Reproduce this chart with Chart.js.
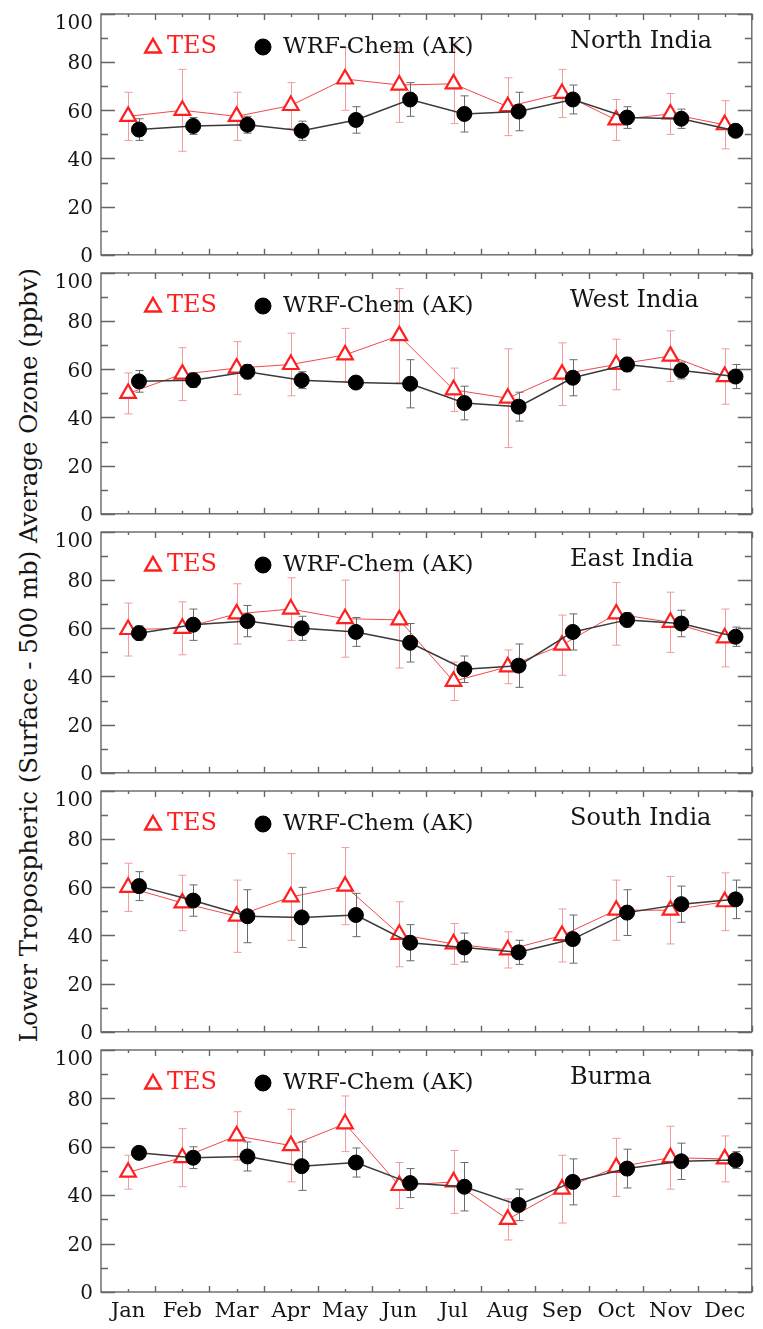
<!DOCTYPE html>
<html>
<head>
<meta charset="utf-8">
<title>Lower tropospheric ozone, TES vs WRF-Chem</title>
<script src="https://cdn.jsdelivr.net/npm/chart.js@4.4.1/dist/chart.umd.min.js"></script>
<style>
  html, body { margin: 0; padding: 0; background: #fff; }
  #page { position: relative; width: 763px; height: 1329px; overflow: hidden; }
  .panel { position: absolute; left: 0; }
  #ytitle {
    position: absolute; left: 28px; top: 655px;
    transform: translate(-50%, -50%) rotate(-90deg);
    white-space: nowrap; font: 24.5px "DejaVu Serif", serif; color: #151515;
  }
</style>
</head>
<body>
<div id="page">
  <div id="ytitle">Lower Tropospheric (Surface - 500 mb) Average Ozone (ppbv)</div>
</div>
<script>
const MONTHS = ["Jan", "Feb", "Mar", "Apr", "May", "Jun", "Jul", "Aug", "Sep", "Oct", "Nov", "Dec"];
const REGIONS = ["North India", "West India", "East India", "South India", "Burma"];
const Y_TICKS = [0, 20, 40, 60, 80, 100];

// monthly means and 1-sigma spread, ppbv
const NORTH_TES = [57.5, 60, 57.5, 62, 73, 70.5, 71, 61.5, 67, 56, 58.5, 54];
const NORTH_TES_ERR = [10, 17, 10, 9.5, 13, 15.5, 16.5, 12, 10, 8.5, 8.5, 10];
const NORTH_WRF = [52, 53.5, 54, 51.5, 56, 64.5, 58.5, 59.5, 64.5, 57, 56.5, 51.5];
const NORTH_WRF_ERR = [4.5, 3.5, 3.5, 4, 5.5, 7, 7.5, 8, 6, 4.5, 4, 2];

const WEST_TES = [50, 58, 60.5, 62, 66, 74, 51.5, 48, 58, 62, 65.5, 57];
const WEST_TES_ERR = [8.5, 11, 11, 13, 11, 19.5, 9, 20.5, 13, 10.5, 10.5, 11.5];
const WEST_WRF = [55, 55.5, 59, 55.5, 54.5, 54, 46, 44.5, 56.5, 62, 59.5, 57];
const WEST_WRF_ERR = [4.5, 3, 3, 3.5, 1.5, 10, 7, 6, 7.5, 3, 3.5, 5];

const EAST_TES = [59.5, 60, 66, 68, 64, 63.5, 38, 44, 53, 66, 62.5, 56];
const EAST_TES_ERR = [11, 11, 12.5, 13, 16, 20, 8, 7, 12.5, 13, 12.5, 12];
const EAST_WRF = [58, 61.5, 63, 60, 58.5, 54, 43, 44.5, 58.5, 63.5, 62, 56.5];
const EAST_WRF_ERR = [3, 6.5, 6.5, 5, 6, 8, 5.5, 9, 7.5, 3, 5.5, 4];

const SOUTH_TES = [60, 53.5, 48, 56, 60.5, 40.5, 36.5, 34, 40, 50.5, 50.5, 54];
const SOUTH_TES_ERR = [10, 11.5, 15, 18, 16, 13.5, 8.5, 7.5, 11, 12.5, 14, 12];
const SOUTH_WRF = [60.5, 54.5, 48, 47.5, 48.5, 37, 35, 33, 38.5, 49.5, 53, 55];
const SOUTH_WRF_ERR = [6, 6.5, 11, 12.5, 9, 7.5, 6, 5, 10, 9.5, 7.5, 8];

const BURMA_TES = [49.5, 55.5, 64.5, 60.5, 69.5, 44, 45.5, 30, 42.5, 51.5, 55.5, 55];
const BURMA_TES_ERR = [7, 12, 10, 15, 11.5, 9.5, 13, 8.5, 14, 12, 13, 9.5];
const BURMA_WRF = [57.5, 55.5, 56, 52, 53.5, 45, 43.5, 36, 45.5, 51, 54, 54.5];
const BURMA_WRF_ERR = [2.5, 4.5, 6, 10, 6, 6, 10, 6.5, 9.5, 8, 7.5, 3.5];

const PANELS = [
  { tes: NORTH_TES, tesErr: NORTH_TES_ERR, wrf: NORTH_WRF, wrfErr: NORTH_WRF_ERR },
  { tes: WEST_TES, tesErr: WEST_TES_ERR, wrf: WEST_WRF, wrfErr: WEST_WRF_ERR },
  { tes: EAST_TES, tesErr: EAST_TES_ERR, wrf: EAST_WRF, wrfErr: EAST_WRF_ERR },
  { tes: SOUTH_TES, tesErr: SOUTH_TES_ERR, wrf: SOUTH_WRF, wrfErr: SOUTH_WRF_ERR },
  { tes: BURMA_TES, tesErr: BURMA_TES_ERR, wrf: BURMA_WRF, wrfErr: BURMA_WRF_ERR },
];

const WRF_SHIFT = 0.2; // model points sit a little right of the month
const RED = "#ff1f1f";
const SERIF = '"DejaVu Serif", serif';

// box, inward ticks, tick labels, error bars and the in-panel legend
const framePlugin = {
  id: "frame",
  beforeDatasetsDraw(chart, args, opts) {
    const { ctx, chartArea: a } = chart;
    const x = chart.scales.x, y = chart.scales.y;
    ctx.save();
    ctx.strokeStyle = "#666";
    ctx.lineWidth = 1.4;
    ctx.strokeRect(a.left, a.top, a.right - a.left, a.bottom - a.top);
    ctx.beginPath();
    for (let v = 0; v <= 100; v += 10) {
      const py = Math.round(y.getPixelForValue(v)) + 0.5;
      const len = v % 20 === 0 ? 14 : 7;
      ctx.moveTo(a.left, py); ctx.lineTo(a.left + len, py);
      ctx.moveTo(a.right, py); ctx.lineTo(a.right - len, py);
    }
    for (let m = 0; m < 12; m += 0.5) {
      const px = Math.round(x.getPixelForValue(m)) + 0.5;
      const len = Number.isInteger(m) ? 3 : 6;
      ctx.moveTo(px, a.bottom); ctx.lineTo(px, a.bottom - len);
      ctx.moveTo(px, a.top); ctx.lineTo(px, a.top + len);
    }
    ctx.stroke();

    ctx.fillStyle = "#151515";
    ctx.font = "20px " + SERIF;
    ctx.textAlign = "right";
    ctx.textBaseline = "middle";
    Y_TICKS.forEach(v => {
      const py = Math.max(y.getPixelForValue(v) + 2, a.top + 10);
      ctx.fillText(String(v), a.left - 8, py);
    });
    if (opts.months) {
      ctx.font = "21px " + SERIF;
      ctx.textAlign = "center";
      MONTHS.forEach((m, i) => ctx.fillText(m, x.getPixelForValue(i), a.bottom + 20));
    }
    ctx.restore();
  },
  beforeDatasetDraw(chart, args) {
    const ds = chart.data.datasets[args.index];
    const y = chart.scales.y;
    const ctx = chart.ctx;
    ctx.save();
    ctx.strokeStyle = ds.errColor;
    ctx.lineWidth = 1;
    ctx.beginPath();
    args.meta.data.forEach((pt, i) => {
      const v = ds.data[i].y, e = ds.errors[i];
      const top = y.getPixelForValue(v + e), bot = y.getPixelForValue(v - e);
      const px = Math.round(pt.x) + 0.5;
      ctx.moveTo(px, top); ctx.lineTo(px, bot);
      ctx.moveTo(px - 4, top); ctx.lineTo(px + 4, top);
      ctx.moveTo(px - 4, bot); ctx.lineTo(px + 4, bot);
    });
    ctx.stroke();
    ctx.restore();
  },
  afterDraw(chart, args, opts) {
    const { ctx, chartArea: a } = chart;
    const ly = a.top + 33;
    ctx.save();
    ctx.fillStyle = "#fff";
    ctx.strokeStyle = RED;
    ctx.lineWidth = 2.4;
    Chart.helpers.drawPoint(ctx, { pointStyle: "triangle", radius: 9, borderWidth: 2.4 }, a.left + 52, ly + 1);
    ctx.fillStyle = "#000";
    ctx.strokeStyle = "#000";
    ctx.lineWidth = 1;
    Chart.helpers.drawPoint(ctx, { pointStyle: "circle", radius: 8, borderWidth: 1 }, a.left + 162, ly);

    ctx.font = "24px " + SERIF;
    ctx.textAlign = "left";
    ctx.textBaseline = "middle";
    ctx.fillStyle = RED;
    ctx.fillText("TES", a.left + 66, ly);
    ctx.fillStyle = "#151515";
    ctx.font = "23px " + SERIF;
    ctx.fillText("WRF-Chem (AK)", a.left + 182, ly);
    ctx.font = "24px " + SERIF;
    ctx.fillText(opts.name, a.left + 469, a.top + 28);
    ctx.restore();
  }
};

const page = document.getElementById("page");

PANELS.forEach((p, k) => {
  const last = k === PANELS.length - 1;
  const height = last ? 299 : 272;
  const canvas = document.createElement("canvas");
  canvas.className = "panel";
  canvas.width = 763;
  canvas.height = height;
  canvas.style.top = (259 * k - 6) + "px";
  page.appendChild(canvas);

  new Chart(canvas, {
    type: "scatter",
    data: {
      datasets: [
        {
          label: "WRF-Chem (AK)",
          data: p.wrf.map((v, i) => ({ x: i + WRF_SHIFT, y: v })),
          errors: p.wrfErr,
          errColor: "#6a6a6a",
          showLine: true,
          borderColor: "#3a3a3a",
          borderWidth: 1.5,
          pointStyle: "circle",
          pointRadius: 7.5,
          pointBackgroundColor: "#000",
          pointBorderColor: "#000",
          pointBorderWidth: 1,
          order: 1,
        },
        {
          label: "TES",
          data: p.tes.map((v, i) => ({ x: i, y: v })),
          errors: p.tesErr,
          errColor: "#f49a9a",
          showLine: true,
          borderColor: "#f04848",
          borderWidth: 1,
          pointStyle: "triangle",
          pointRadius: 9,
          pointBackgroundColor: "#fff",
          pointBorderColor: RED,
          pointBorderWidth: 2.2,
          order: 2,
        },
      ],
    },
    options: {
      responsive: false,
      animation: false,
      events: [],
      clip: false,
      layout: { padding: { left: 101, right: 1, top: 20, bottom: height - 262 } },
      scales: {
        x: { type: "linear", min: -0.5, max: 11.5, display: false },
        y: { type: "linear", min: 0, max: 100, display: false },
      },
      plugins: {
        legend: { display: false },
        tooltip: { enabled: false },
        frame: { name: REGIONS[k], months: last },
      },
    },
    plugins: [framePlugin],
  });
});
</script>
</body>
</html>
